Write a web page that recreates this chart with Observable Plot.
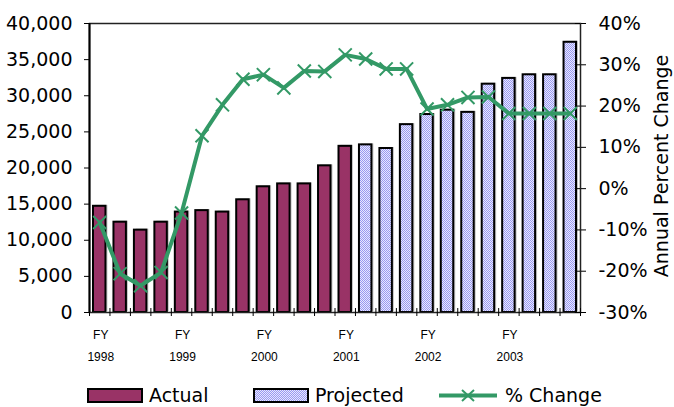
<!DOCTYPE html>
<html><head><meta charset="utf-8">
<script src="https://cdn.jsdelivr.net/npm/d3@7"></script>
<script src="https://cdn.jsdelivr.net/npm/@observablehq/plot@0.6"></script>
<style>
body{margin:0;background:#fff;font-family:"DejaVu Sans",sans-serif;}
#chart svg{display:block;}
#legend{position:relative;height:37px;width:674px;font-size:19px;color:#000;}
#legend .item{position:absolute;top:14px;display:flex;align-items:center;height:22px;}
#legend svg{display:block;margin-right:6px;}
</style></head><body>
<div id="chart"></div>
<div id="legend"></div>
<script>
const years = ["1998","1999","2000","2001","2002","2003"];
const actual = [14700,12500,11400,12500,13900,14100,13900,15600,17400,17800,17800,20300,23000];
const projected = [23200,22700,26000,27400,28000,27700,31600,32400,32900,32900,37400];
const pctChange = [-8.2,-20.6,-23.5,-20.3,-5.9,12.8,20.3,26.5,27.6,24.4,28.5,28.4,32.4,31.4,29.0,29.0,19.3,20.3,22.1,22.2,18.2,18.2,18.2,18.2];
const countTicks = [0,5000,10000,15000,20000,25000,30000,35000,40000];
const pctTicks = [-30,-20,-10,0,10,20,30,40];
const seriesNames = ["Actual","Projected","% Change"];
const colors = {Actual:"#993366", line:"#339966"};

const yMax = 40000, pMin = -30, pMax = 40;
const toY = p => (p - pMin) / (pMax - pMin) * yMax;
const fromY = y => Math.round(y / yMax * (pMax - pMin) + pMin);

const bars = actual.map((v,i)=>({i, v, kind:"Actual"}))
  .concat(projected.map((v,j)=>({i: actual.length + j, v, kind:"Projected"})));
const pts = pctChange.map((p,i)=>({i, p}));
const n = bars.length;

const font = "DejaVu Sans";
const plot = Plot.plot({
  width: 674, height: 370,
  marginTop: 23, marginBottom: 58, marginLeft: 89, marginRight: 94,
  style: {fontFamily: font, fontSize: "19px", color: "#000", background: "#fff"},
  x: {domain: [0, n], axis: null},
  y: {domain: [0, yMax], axis: null},
  marks: [
    Plot.rectY(bars, {x1: d=>d.i, x2: d=>d.i+1, y1: 0, y2: "v", insetLeft: 4, insetRight: 4,
      fill: "#c4c4c4", dx: 2, dy: -1}),
    Plot.rectY(bars, {x1: d=>d.i, x2: d=>d.i+1, y1: 0, y2: "v", insetLeft: 4, insetRight: 4,
      fill: d => d.kind === "Actual" ? colors.Actual : "url(#dots)", stroke: "#000", strokeWidth: 2}),
    Plot.frame({stroke: "#222", strokeWidth: 1.5}),
    Plot.ruleX([0], {stroke: "#000", strokeWidth: 2}),
    Plot.axisY(countTicks, {anchor: "left", tickSize: 5, tickPadding: 12, fontSize: 19,
      tickFormat: d => d3.format(",")(d), label: null}),
    Plot.axisY(pctTicks.map(toY), {anchor: "right", tickSize: 5, tickPadding: 13, fontSize: 19,
      tickFormat: d => fromY(d) + "%", label: null}),
    Plot.ruleY(pctTicks.map(toY), {x1: n - 0.25, x2: n, stroke: "#000"}),
    Plot.axisX(d3.range(n + 1), {tickSize: 4, tickFormat: () => "", label: null}),
    Plot.ruleX(d3.range(n + 1), {y1: 0, y2: 550, stroke: "#000"}),
    Plot.text(years, {x: (d,i) => i*4 + 0.5, y: 0, text: () => "FY", dy: 23, dx: 1,
      fontFamily: "Liberation Sans", fontSize: 12}),
    Plot.text(years, {x: (d,i) => i*4 + 0.5, y: 0, text: d => d, dy: 45, dx: 1,
      fontFamily: "Liberation Sans", fontSize: 12}),
    Plot.line(pts, {x: d => d.i + 0.5, y: d => toY(d.p), stroke: colors.line, strokeWidth: 4}),
    Plot.dot(pts, {x: d => d.i + 0.5, y: d => toY(d.p), symbol: "times", r: 6,
      stroke: colors.line, strokeWidth: 2}),
    Plot.text(["Annual Percent Change"], {frameAnchor: "right", dx: 81, dy: -2, rotate: -90,
      textAnchor: "middle", text: d => d, fontSize: 19, fontFamily: font})
  ]
});
plot.insertAdjacentHTML("afterbegin",
  `<defs><pattern id="dots" width="2" height="2" patternUnits="userSpaceOnUse">
    <rect width="2" height="2" fill="#e8e8ff"/>
    <rect x="0" y="0" width="1" height="1" fill="#9a9af0"/>
    <rect x="1" y="1" width="1" height="1" fill="#9a9af0"/>
  </pattern></defs>`);
document.getElementById("chart").appendChild(plot);

const legend = document.getElementById("legend");
const swatch = {
  "Actual": `<svg width="56" height="15"><rect x="1" y="1" width="54" height="13" fill="${colors.Actual}" stroke="#000" stroke-width="2"/></svg>`,
  "Projected": `<svg width="56" height="15"><defs><pattern id="dots2" width="2" height="2" patternUnits="userSpaceOnUse"><rect width="2" height="2" fill="#e8e8ff"/><rect width="1" height="1" fill="#9a9af0"/><rect x="1" y="1" width="1" height="1" fill="#9a9af0"/></pattern></defs><rect x="1" y="1" width="54" height="13" fill="url(#dots2)" stroke="#000" stroke-width="2"/></svg>`,
  "% Change": `<svg width="60" height="15"><line x1="0" y1="7.5" x2="58" y2="7.5" stroke="${colors.line}" stroke-width="4"/><path d="M23,2L35,13M35,2L23,13" stroke="${colors.line}" stroke-width="2"/></svg>`
};
const lefts = [87, 253, 439];
seriesNames.forEach((s, k) => {
  const div = document.createElement("div");
  div.className = "item";
  div.style.left = lefts[k] + "px";
  div.innerHTML = swatch[s] + `<span>${s}</span>`;
  legend.appendChild(div);
});
</script>
</body></html>
